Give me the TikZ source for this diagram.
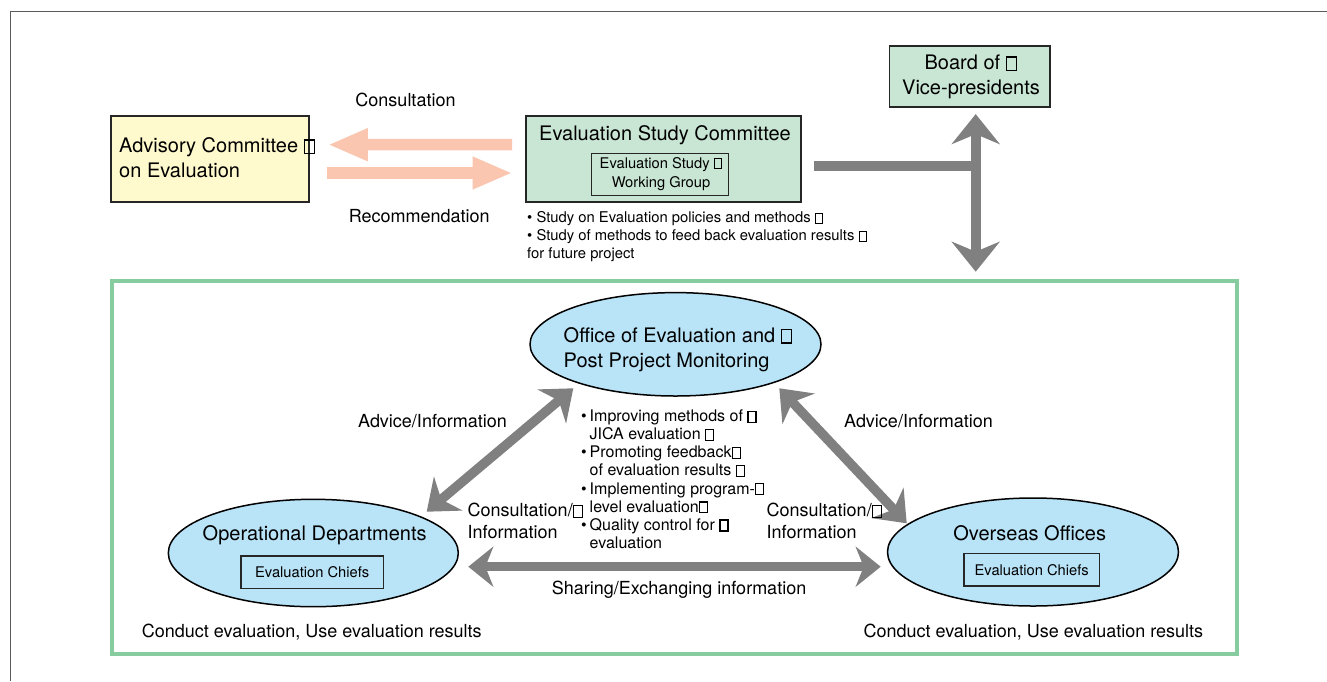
\documentclass[tikz,border=0pt]{standalone}
\usepackage{fontspec}
\setmainfont{TeX Gyre Heros}
\newcommand\tofu{{\setlength{\fboxsep}{0pt}\setlength{\fboxrule}{0.08em}\fbox{\rule{0pt}{0.6em}\rule{0.42em}{0pt}}}}
\newcommand\bul{\makebox[8.5pt][l]{•}}
\newcommand\ind{\hspace*{8.5pt}}
\usetikzlibrary{arrows.meta,shapes.geometric,calc}
\definecolor{advfill}{RGB}{255,250,205}
\definecolor{escfill}{RGB}{201,230,212}
\definecolor{ellfill}{RGB}{185,227,247}
\definecolor{framegreen}{RGB}{134,204,158}
\definecolor{peach}{RGB}{250,198,176}
\definecolor{arrowgray}{RGB}{128,128,128}
\definecolor{outergray}{RGB}{90,90,90}
\begin{document}
\begin{tikzpicture}[x=1pt,y=-1pt,
  box/.style={draw=black!85, line width=1.6pt, inner sep=0pt},
  ell/.style={ellipse, draw=black, line width=1.5pt, fill=ellfill, inner sep=0pt},
  big/.style={inner sep=0pt, font=\fontsize{20}{25}\selectfont},
  lbl/.style={inner sep=0pt, font=\fontsize{18}{21.7}\selectfont},
  small/.style={inner sep=0pt, font=\fontsize{14.8}{18}\selectfont},
  pinkarrow/.style={line width=11.5pt, draw=peach, -{Triangle[length=40pt,width=30pt]}},
  grayline/.style={line width=10pt, draw=arrowgray},
  grayarrow/.style={line width=10pt, draw=arrowgray,
     {Stealth[length=30pt,width=48pt,inset=10pt]}-{Stealth[length=30pt,width=48pt,inset=10pt]}},
  grayarrowb/.style={line width=9.5pt, draw=arrowgray,
     {Stealth[length=28pt,width=44pt,inset=9pt]}-{Stealth[length=28pt,width=44pt,inset=9pt]}},
  grayarrowc/.style={line width=9pt, draw=arrowgray,
     {Stealth[length=25pt,width=40pt,inset=8pt]}-{Stealth[length=25pt,width=40pt,inset=8pt]}}
]
\useasboundingbox (0,0) rectangle (1327,681);
\fill[white] (0,0) rectangle (1327,681);
\draw[outergray, line width=1pt] (10,681) -- (10,11) -- (1327,11);

% top boxes
\node[box, fill=advfill, minimum width=198.3pt, minimum height=85.7pt] (adv) at (209.85,158.85) {};
\node[big, anchor=west, align=left] (advt) at (119,158) {Advisory Committee \tofu\\on Evaluation};

\node[box, fill=escfill, minimum width=275.3pt, minimum height=86pt] (esc) at (663.35,158.7) {};
\node[big] (esct) at (665,135.5) {Evaluation Study Committee};
\node[box, line width=1.3pt, minimum width=136.6pt, minimum height=42.4pt] (wg) at (660,174.5) {};
\node[inner sep=0pt, align=center, font=\fontsize{14.7}{19.5}\selectfont] (wgt) at (661,174) {Evaluation Study \tofu\\Working Group};

\node[box, fill=escfill, minimum width=160.7pt, minimum height=61pt] (board) at (969.65,76.2) {};
\node[big, align=center] (boardt) at (971,77) {Board of \tofu\\Vice-presidents};

% pink arrows
\draw[pinkarrow] ($(esc.west)+(-12.7,-14)$) -- ($(adv.east)+(18,-14.15)$);
\draw[pinkarrow] ($(adv.east)+(17,14.15)$) -- ($(esc.west)+(-12.4,14.3)$);
\node[lbl] (consl) at (405.5,100) {Consultation};
\node[lbl] (recl) at (419.2,216.5) {Recommendation};

\node[small, anchor=west, align=left] (study) at (527,237) {• Study on Evaluation policies and methods \tofu\\• Study of methods to feed back evaluation results \tofu\\for future project};

% gray connector to board
\coordinate (junc) at (980.7,166);
\coordinate (vbot) at (975.7,271.7);
\draw[grayline] ($(esc.east)+(12,7.3)$) -- (junc);
\draw[grayarrow] ($(board.south)+(6.05,6.6)$) -- (vbot);

% green frame
\node[draw=framegreen, line width=4pt, minimum width=1125pt, minimum height=373pt, inner sep=0pt] (frame) at (674.5,467.5) {};

% ellipses
\node[ell, minimum width=291pt, minimum height=103.4pt] (off) at (675.5,344.3) {};
\node[big, anchor=west, align=left] (offt) at (563.5,349.7) {Office of Evaluation and \tofu\\Post Project Monitoring};

\node[ell, minimum width=290pt, minimum height=107.4pt] (opd) at (313.3,553) {};
\node[big] (opdt) at (314.7,535) {Operational Departments};
\node[box, line width=1.4pt, minimum width=142.3pt, minimum height=32.3pt, font=\fontsize{14.7}{18}\selectfont] (opdc) at (312.2,572.2) {Evaluation Chiefs};

\node[ell, minimum width=291pt, minimum height=108pt] (ovs) at (1033,552) {};
\node[big] (ovst) at (1029.7,533.3) {Overseas Offices};
\node[box, line width=1.4pt, minimum width=135.3pt, minimum height=32.7pt, font=\fontsize{14.7}{18}\selectfont] (ovsc) at (1031.7,569.7) {Evaluation Chiefs};

% gray arrows between ellipses
\draw[grayarrowb] ($(opd)+(113.4,-41.3)$) -- ($(off)+(-102.2,44)$);
\draw[grayarrowb] ($(off)+(103.8,44)$) -- ($(ovs)+(-126.3,-28.7)$);
\draw[grayarrowc] ($(opd)+(155,13.7)$) -- ($(ovs)+(-152.3,14.7)$);

% labels
\node[lbl] (advl) at (432.5,421.5) {Advice/Information};
\node[lbl] (advr) at (918.5,421.5) {Advice/Information};
\node[lbl, anchor=west, align=left] (conl) at (467.5,521) {Consultation/\tofu\\Information};
\node[lbl, anchor=west, align=left] (conr) at (766.5,521) {Consultation/\tofu\\Information};
\node[lbl] (share) at (679,590) {Sharing/Exchanging information};
\node[lbl, anchor=west] (condl) at (141.7,631.7) {Conduct evaluation, Use evaluation results};
\node[lbl, anchor=west] (condr) at (863.3,631.7) {Conduct evaluation, Use evaluation results};

\node[inner sep=0pt, anchor=west, align=left, font=\fontsize{16}{18.1}\selectfont] (tasks) at (581,479.3)
 {\bul Improving methods of \tofu\\\ind JICA evaluation \tofu\\\bul Promoting feedback\tofu\\\ind of evaluation results \tofu\\\bul Implementing program-\tofu\\\ind level evaluation\tofu\\\bul Quality control for \tofu\\\ind evaluation};
\end{tikzpicture}
\end{document}
